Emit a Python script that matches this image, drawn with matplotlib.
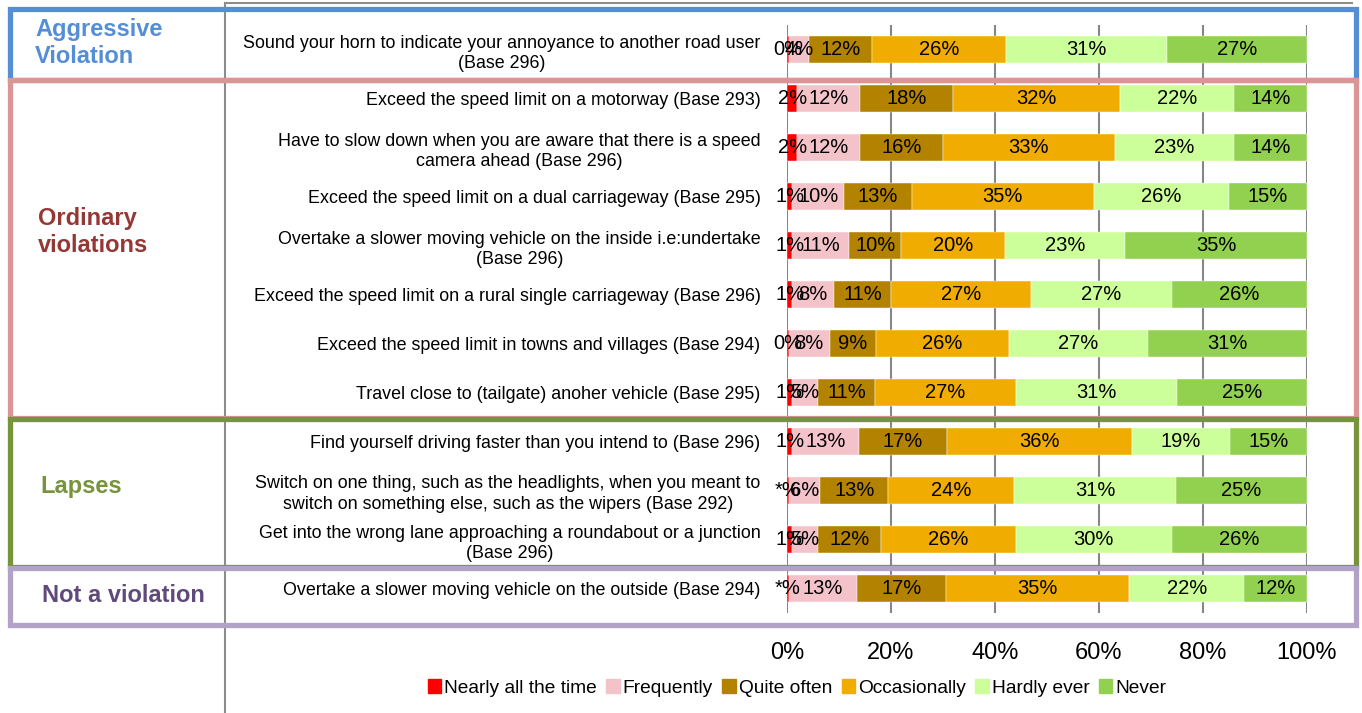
import matplotlib
matplotlib.use("Agg")
import matplotlib.pyplot as plt
from matplotlib.patches import Rectangle
from matplotlib.lines import Line2D
import numpy as np

plt.rcParams['font.family'] = ['Liberation Sans', 'DejaVu Sans']

W, H = 1362, 713

items = [
    "Sound your horn to indicate your annoyance to another road user\n(Base 296)",
    "Exceed the speed limit on a motorway (Base 293)",
    "Have to slow down when you are aware that there is a speed\ncamera ahead (Base 296)",
    "Exceed the speed limit on a dual carriageway (Base 295)",
    "Overtake a slower moving vehicle on the inside i.e:undertake\n(Base 296)",
    "Exceed the speed limit on a rural single carriageway (Base 296)",
    "Exceed the speed limit in towns and villages (Base 294)",
    "Travel close to (tailgate) anoher vehicle (Base 295)",
    "Find yourself driving faster than you intend to (Base 296)",
    "Switch on one thing, such as the headlights, when you meant to\nswitch on something else, such as the wipers (Base 292)",
    "Get into the wrong lane approaching a roundabout or a junction\n(Base 296)",
    "Overtake a slower moving vehicle on the outside (Base 294)",
]

series = ["Nearly all the time", "Frequently", "Quite often",
          "Occasionally", "Hardly ever", "Never"]

# values per series, one per item (top to bottom)
nearly = [0.3, 2, 2, 1, 1, 1, 0.3, 1, 1, 0.4, 1, 0.4]
nearly_txt = ["0", "2", "2", "1", "1", "1", "0", "1", "1", "*", "1", "*"]
frequently = [4, 12, 12, 10, 11, 8, 8, 5, 13, 6, 5, 13]
quite_often = [12, 18, 16, 13, 10, 11, 9, 11, 17, 13, 12, 17]
occasionally = [26, 32, 33, 35, 20, 27, 26, 27, 36, 24, 26, 35]
hardly_ever = [31, 22, 23, 26, 23, 27, 27, 31, 19, 31, 30, 22]
never = [27, 14, 14, 15, 35, 26, 31, 25, 15, 25, 26, 12]

colors = ["#FF0000", "#F4C3CA", "#B38300", "#F0AC00", "#CCFF99", "#92D050"]

groups = ["Aggressive\nViolation", "Ordinary\nviolations", "Lapses", "Not a violation"]
group_colors = ["#558ED5", "#953735", "#77933C", "#604A7B"]
box_colors = ["#558ED5", "#D99694", "#77933C", "#B3A2C7"]


def fx(px):
    return px / W


def fy(py):
    return 1 - py / H


fig = plt.figure(figsize=(W / 100, H / 100), dpi=100)

# outer chart frame (grey)
fig.add_artist(Line2D([fx(225), fx(225)], [fy(3), fy(713)], color="#8C8C8C", lw=1.5))
fig.add_artist(Line2D([fx(225), fx(1352)], [fy(3), fy(3)], color="#8C8C8C", lw=1.5))

ax = fig.add_axes([fx(787), fy(613), fx(1307) - fx(787), (613 - 25) / H])

data = np.array([nearly, frequently, quite_often, occasionally, hardly_ever, never], dtype=float)
shares = data / data.sum(axis=0) * 100
y = np.arange(len(items))

left = np.zeros(len(items))
for i, name in enumerate(series):
    ax.barh(y, shares[i], left=left, height=0.55, color=colors[i],
            edgecolor="white", linewidth=0.3, label=name, zorder=3)
    for j in range(len(items)):
        if i == 0:
            txt = nearly_txt[j] + "%"
        else:
            txt = "%d%%" % data[i, j]
        ax.text(left[j] + shares[i, j] / 2, y[j], txt, ha="center", va="center",
                fontsize=14.5, color="black", zorder=5)
    left += shares[i]

ax.set_xlim(0, 100)
ax.set_ylim(len(items) - 0.5, -0.5)
ax.set_xticks([0, 20, 40, 60, 80, 100])
ax.set_xticklabels(["0%", "20%", "40%", "60%", "80%", "100%"], fontsize=17)
ax.tick_params(axis="x", length=0, pad=21)
ax.set_yticks(y)
ax.set_yticklabels(items, fontsize=12.9)
for lbl in ax.get_yticklabels():
    lbl.set_multialignment("center")
    lbl.set_linespacing(1.3)
ax.tick_params(axis="y", length=0, pad=19)
ax.grid(axis="x", color="#868686", lw=1.5, zorder=0)
for s in ax.spines.values():
    s.set_visible(False)

# group boxes
boxes = [(9.5, 8.5, 1356, 80), (9.5, 80, 1356, 418), (9.5, 419, 1356, 567), (9.5, 568, 1356, 625)]
label_pos = [(35, 43), (38, 232), (40, 487), (42, 596)]
for (x0, y0, x1, y1), bc, g, gc, (lx, ly) in zip(boxes, box_colors, groups, group_colors, label_pos):
    fig.add_artist(Rectangle((fx(x0), fy(y1)), fx(x1) - fx(x0), (y1 - y0) / H,
                             fill=False, edgecolor=bc, lw=3.8, zorder=10))
    fig.text(fx(lx), fy(ly), g, color=gc, fontsize=17, fontweight="bold",
             ha="left", va="center", linespacing=1.25)

handles = [Rectangle((0, 0), 1, 1, color=c) for c in colors]
fig.legend(handles, series, loc="center", bbox_to_anchor=(fx(797), fy(688)),
           ncol=6, frameon=False, fontsize=13.8, handlelength=0.7, handleheight=0.7,
           handletextpad=0.15, columnspacing=0.5)

fig.savefig("out.png", dpi=100)
